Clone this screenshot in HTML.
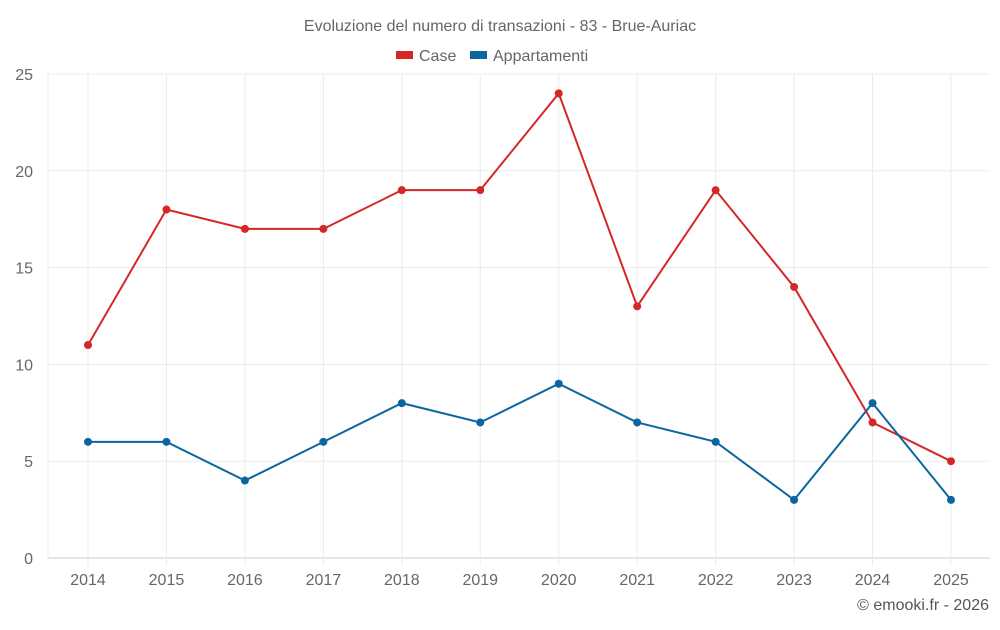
<!DOCTYPE html>
<html><head><meta charset="utf-8"><style>
body{margin:0;background:#fff;font-family:"Liberation Sans",sans-serif;}
svg text{font-family:"Liberation Sans",sans-serif;}
</style></head><body>
<svg id="chart" width="1000" height="625">
<text x="500" y="31" text-anchor="middle" font-size="16" fill="#666">Evoluzione del numero di transazioni - 83 - Brue-Auriac</text>
<g>
<g><rect x="396" y="51" width="17" height="8" fill="#d62728"/><text x="419" y="61" font-size="16" fill="#666">Case</text></g>
<g><rect x="470" y="51" width="17" height="8" fill="#0b66a0"/><text x="493" y="61" font-size="16" fill="#666">Appartamenti</text></g>
</g>
<g id="grid"></g><g id="axes"></g><g id="series"></g>
<text x="989" y="610" text-anchor="end" font-size="16" fill="#555">© emooki.fr - 2026</text>
</svg>
<script>
const years=[2014,2015,2016,2017,2018,2019,2020,2021,2022,2023,2024,2025];
const caseVals=[11,18,17,17,19,19,24,13,19,14,7,5];
const apptVals=[6,6,4,6,8,7,9,7,6,3,8,3];
const yTicks=[0,5,10,15,20,25];
const NS="http://www.w3.org/2000/svg";
const x=i=>88+i*(951-88)/11;
const y=v=>558-v*(558-74)/25;
function mk(t,a,p){const e=document.createElementNS(NS,t);for(const k in a)e.setAttribute(k,a[k]);p.appendChild(e);return e;}
const grid=document.getElementById('grid'),axes=document.getElementById('axes'),ser=document.getElementById('series');
yTicks.forEach(v=>{
 const l=mk('line',{x1:48,x2:990,y1:y(v),y2:y(v),stroke:v===0?'#ccc':'#ebebeb'},grid);
 
 
 const t=mk('text',{x:33,y:y(v)+6,'text-anchor':'end','font-size':16,fill:'#666'},axes);
 t.textContent=v;
 
 
});
mk('line',{x1:48,x2:48,y1:74,y2:558,stroke:'#ebebeb'},grid);
years.forEach((yr,i)=>{
 const l=mk('line',{x1:x(i),x2:x(i),y1:74,y2:566,stroke:'#ebebeb'},grid);
 
 
 const t=mk('text',{x:x(i),y:585,'text-anchor':'middle','font-size':16,fill:'#666'},axes);
 t.textContent=yr;
 
 
});
function draw(vals,col,name){
 const p=mk('polyline',{points:vals.map((v,i)=>x(i)+','+y(v)).join(' '),fill:'none',stroke:col,'stroke-width':2},ser);
 
 
 vals.forEach((v,i)=>{
  const c=mk('circle',{cx:x(i),cy:y(v),r:4,fill:col},ser);
  
  
 });
}
draw(caseVals,'#d62728','case');
draw(apptVals,'#0b66a0','appartamenti');
</script>
</body></html>
